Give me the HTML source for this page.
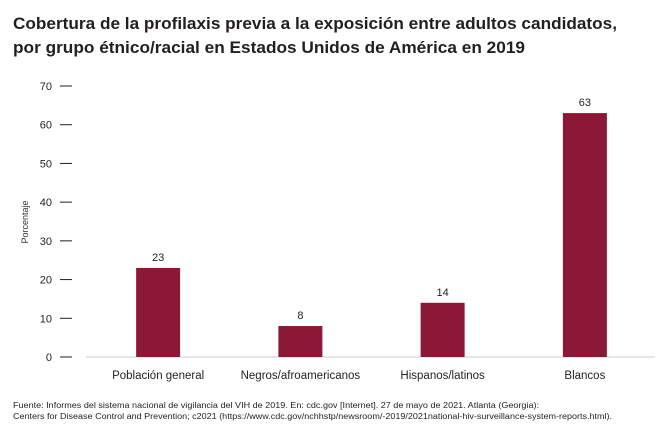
<!DOCTYPE html>
<html><head><meta charset="utf-8"><style>
body{margin:0;background:#fff;}
svg{display:block;font-family:"Liberation Sans",sans-serif;}
</style></head><body>
<svg width="670" height="441" viewBox="0 0 670 441" id="chart">
<text x="13" y="29" font-size="17" font-weight="bold" fill="#231f20" textLength="604" lengthAdjust="spacingAndGlyphs">Cobertura de la profilaxis previa a la exposición entre adultos candidatos,</text>
<text x="13" y="53" font-size="17" font-weight="bold" fill="#231f20" textLength="512" lengthAdjust="spacingAndGlyphs">por grupo étnico/racial en Estados Unidos de América en 2019</text>
<text transform="translate(28,222) rotate(-90)" text-anchor="middle" font-size="9" fill="#333">Porcentaje</text>
<line x1="86" y1="357" x2="655" y2="357" stroke="#ccc" stroke-width="1"/>
<g id="yaxis"></g>
<g id="bars"></g>
<text x="13" y="408" font-size="8" fill="#231f20" textLength="526" lengthAdjust="spacingAndGlyphs">Fuente: Informes del sistema nacional de vigilancia del VIH de 2019. En: cdc.gov [Internet]. 27 de mayo de 2021. Atlanta (Georgia):</text>
<text x="13" y="419" font-size="8" fill="#231f20" textLength="599" lengthAdjust="spacingAndGlyphs">Centers for Disease Control and Prevention; c2021 (https://www.cdc.gov/nchhstp/newsroom/-2019/2021national-hiv-surveillance-system-reports.html).</text>
</svg>
<script>
const categories = ["Población general","Negros/afroamericanos","Hispanos/latinos","Blancos"];
const values = [23, 8, 14, 63];
const yTicks = [0,10,20,30,40,50,60,70];
const NS="http://www.w3.org/2000/svg";
const y0=357, yTop=86, vMax=70;
const yScale=v=>y0-(v/vMax)*(y0-yTop);
const xLeft=86, xRight=655, bw=(xRight-xLeft)/categories.length;
const xCenter=i=>xLeft+bw*(i+0.5)+1;
function mk(tag,attrs,parent){const e=document.createElementNS(NS,tag);for(const k in attrs)e.setAttribute(k,attrs[k]);parent.appendChild(e);return e;}
const ya=document.getElementById('yaxis');
yTicks.forEach(t=>{
  const y=yScale(t);
  const l=mk('line',{x1:60,x2:72,y1:y,y2:y,stroke:'#231f20','stroke-width':1},ya);
  
  
  const tx=mk('text',{x:52,y:y+4,'text-anchor':'end','font-size':11,fill:'#231f20'},ya);
  tx.textContent=t;
  
  
});
const bg=document.getElementById('bars');
categories.forEach((c,i)=>{
  const cx=xCenter(i), v=values[i], y=yScale(v);
  const r=mk('rect',{x:cx-22,y:y,width:44,height:y0-y,fill:'#8c1838'},bg);
  
  
  const vl=mk('text',{x:cx,y:y-7,'text-anchor':'middle','font-size':11,fill:'#231f20'},bg);
  vl.textContent=v;
  
  
  const cl=mk('text',{x:cx,y:379,'text-anchor':'middle','font-size':11.5,fill:'#231f20'},bg);
  cl.textContent=c;
  
  
});
</script>
</body></html>
